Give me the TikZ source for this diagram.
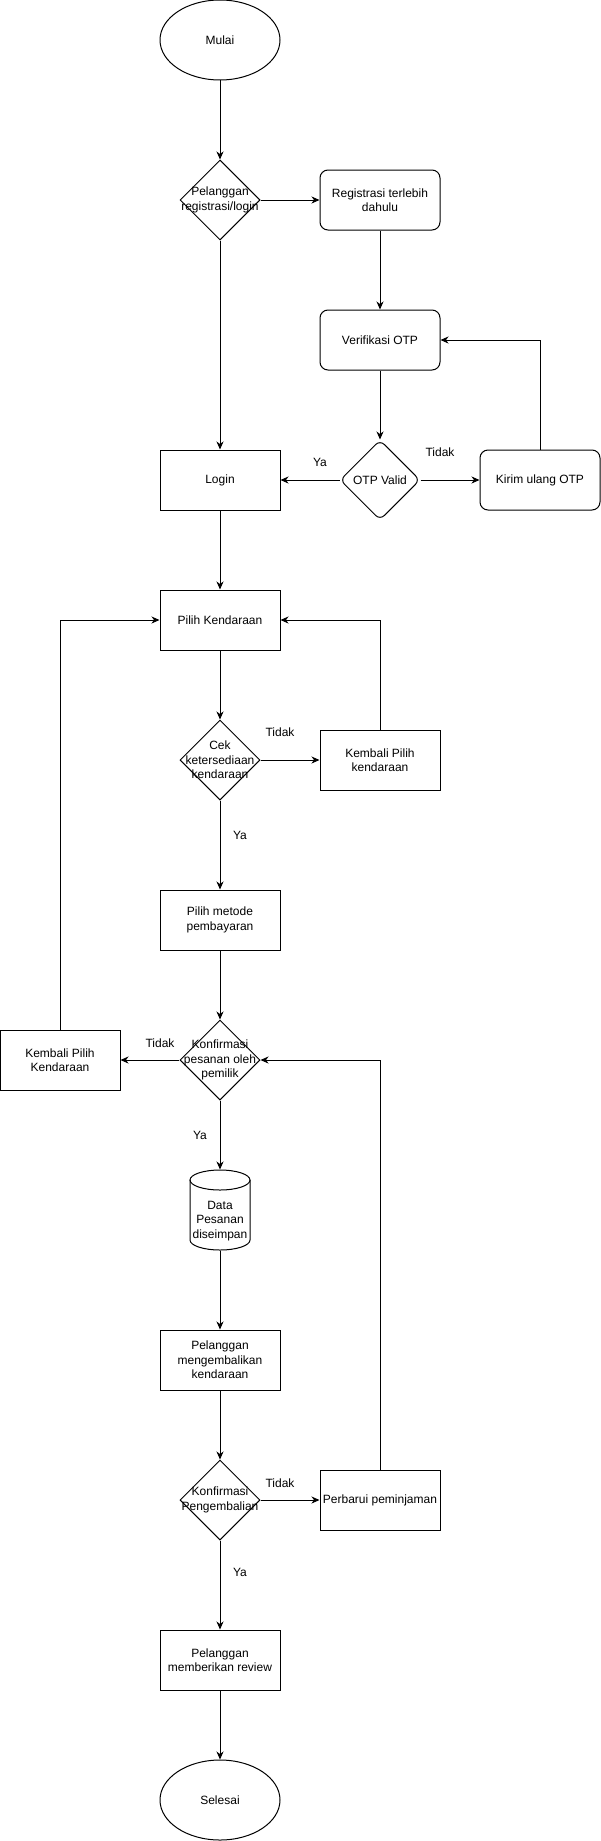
\documentclass[tikz,border=0pt]{standalone}
\usepackage{fontspec}
\setmainfont{Liberation Sans}
\usepackage{tikz}
\usetikzlibrary{arrows.meta}
\usetikzlibrary{shapes.geometric}
\usetikzlibrary{calc}

\tikzset{
	teks/.style = {align=center, inner sep=0pt},
	proses/.style = {draw, rectangle, minimum width=120pt, minimum height=60pt, align=center, inner sep=0pt},
	prosesR/.style = {proses, rounded corners=8pt},
	terminal/.style = {draw, ellipse, minimum width=120pt, minimum height=80pt, inner sep=0pt},
	keputusan/.style = {draw, diamond, minimum width=80pt, minimum height=80pt, inner sep=0pt, aspect=1},
	panah/.style = {-{Stealth[length=8pt, width=7pt, inset=2.5pt]}},
	ket/.style = {inner sep=0pt}
}

\begin{document}
\begin{tikzpicture}[x=1pt, y=-1pt, line width=1pt,
	every node/.style={font=\fontsize{12}{14.5}\selectfont}]
	\useasboundingbox (0,0) rectangle (601,1841);

	% kolom tengah
	\node[terminal] (mulai) at (220,40) {Mulai};
	\node[keputusan, label={[teks]center:Pelanggan\\registrasi/login}] (pelanggan) at (220,200) {};
	\node[proses] (login) at (220,480) {Login};
	\node[proses] (pilih) at (220,620) {Pilih Kendaraan};
	\node[keputusan, label={[teks]center:Cek\\ketersediaan\\kendaraan}] (cek) at (220,760) {};
	\node[proses] (metode) at (220,920) {Pilih metode\\pembayaran};
	\node[keputusan, label={[teks]center:Konfirmasi\\pesanan oleh\\pemilik}] (konf) at (220,1060) {};
	% tabung data
	\node[minimum width=60pt, minimum height=80pt, inner sep=0pt,
		label={[teks, yshift=-11pt]center:Data\\Pesanan\\diseimpan}] (data) at (220,1210) {};
	\draw (190,1180) -- (190,1240) arc (180:360:30pt and 10pt) -- (250,1180);
	\draw (220,1180) ellipse (30pt and 10pt);
	\node[proses] (kembalikan) at (220,1360) {Pelanggan\\mengembalikan\\kendaraan};
	\node[keputusan, label={[teks]center:Konfirmasi\\Pengembalian}] (konfK) at (220,1500) {};
	\node[proses] (review) at (220,1660) {Pelanggan\\memberikan review};
	\node[terminal] (selesai) at (220,1800) {Selesai};

	% kolom kanan
	\node[prosesR] (regis) at (380,200) {Registrasi terlebih\\dahulu};
	\node[prosesR] (verif) at (380,340) {Verifikasi OTP};
	\node[keputusan, rounded corners=6pt, label={[teks]center:OTP Valid}] (otp) at (380,480) {};
	\node[prosesR] (kirim) at (540,480) {Kirim ulang OTP};
	\node[proses] (kembali) at (380,760) {Kembali Pilih\\kendaraan};
	\node[proses] (perbarui) at (380,1500) {Perbarui peminjaman};

	% kolom kiri
	\node[proses] (kembaliL) at (60,1060) {Kembali Pilih\\Kendaraan};

	% alur
	\draw[panah] (mulai) -- (pelanggan);
	\draw[panah] (pelanggan) -- (regis);
	\draw[panah] (pelanggan) -- (login);
	\draw[panah] (regis) -- (verif);
	\draw[panah] (verif) -- (otp);
	\draw[panah] (otp) -- (login);
	\draw[panah] (otp) -- (kirim);
	\draw[panah] (kirim.north) |- (verif.east);
	\draw[panah] (login) -- (pilih);
	\draw[panah] (pilih) -- (cek);
	\draw[panah] (cek) -- (kembali);
	\draw[panah] (kembali.north) |- (pilih.east);
	\draw[panah] (cek) -- (metode);
	\draw[panah] (metode) -- (konf);
	\draw[panah] (konf) -- (kembaliL);
	\draw[panah] (kembaliL.north) |- (pilih.west);
	\draw[panah] (konf) -- (data);
	\draw[panah] (data) -- (kembalikan);
	\draw[panah] (kembalikan) -- (konfK);
	\draw[panah] (konfK) -- (perbarui);
	\draw[panah] (perbarui.north) |- (konf.east);
	\draw[panah] (konfK) -- (review);
	\draw[panah] (review) -- (selesai);

	% keterangan
	\node[ket] at (320,462) {Ya};
	\node[ket] at (440,452) {Tidak};
	\node[ket] at (280,732) {Tidak};
	\node[ket] at (240,835) {Ya};
	\node[ket] at (160,1043) {Tidak};
	\node[ket] at (200,1135) {Ya};
	\node[ket] at (280,1483) {Tidak};
	\node[ket] at (240,1572) {Ya};
\end{tikzpicture}
\end{document}
